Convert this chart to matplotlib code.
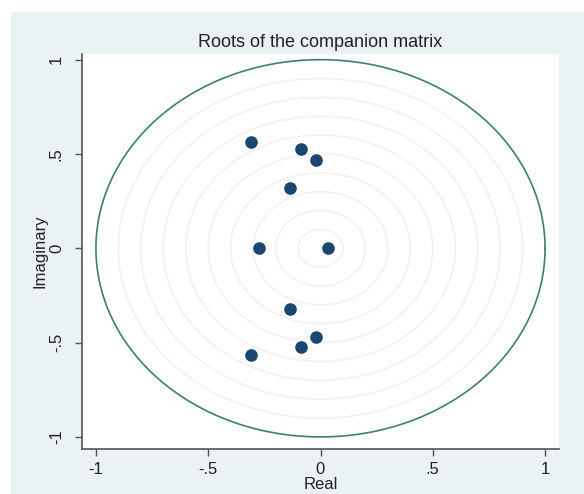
import numpy as np
import matplotlib.pyplot as plt
from matplotlib.patches import Rectangle

# roots of the companion matrix
real_part = [-0.31, -0.085, -0.02, -0.135, -0.275, 0.035,
             -0.135, -0.02, -0.085, -0.31]
imag_part = [0.565, 0.525, 0.468, 0.322, 0.0, 0.0,
             -0.322, -0.468, -0.525, -0.565]

grid_radii = [0.1, 0.2, 0.3, 0.4, 0.5, 0.6, 0.7, 0.8, 0.9]
x_ticks = [-1, -0.5, 0, 0.5, 1]
x_tick_labels = ["-1", "-.5", "0", ".5", "1"]
y_ticks = [-1, -0.5, 0, 0.5, 1]
y_tick_labels = ["-1", "-.5", "0", ".5", "1"]

plt.rcParams['font.family'] = ['Liberation Sans', 'DejaVu Sans']

fig = plt.figure(figsize=(5.84, 4.94), dpi=100)
fig.patch.set_facecolor("white")
# stata-like graph region
fig.patches.append(Rectangle((11 / 584, 0), 1, 1 - 12 / 494,
                             transform=fig.transFigure,
                             facecolor="#eaf2f3", edgecolor="none", zorder=-10))

ax = fig.add_axes([82 / 584, 1 - 449 / 494, (559 - 82) / 584, (449 - 54) / 494])
ax.set_facecolor("white")

theta = np.linspace(0, 2 * np.pi, 400)
for r in grid_radii:
    ax.plot(r * np.cos(theta), r * np.sin(theta), color="#f1f1f1", lw=1.2, zorder=1)
ax.plot(np.cos(theta), np.sin(theta), color="#3f7f70", lw=1.2, zorder=2)

ax.scatter(real_part, imag_part, s=65, color="#1a476f", zorder=3)

ax.set_xlim(-1.062, 1.062)
ax.set_ylim(-1.064, 1.03)

ax.set_xticks(x_ticks)
ax.set_xticklabels(x_tick_labels)
ax.set_yticks(y_ticks)
ax.set_yticklabels(y_tick_labels, rotation=90, va="center")
ax.tick_params(axis="both", direction="out", length=5, width=1,
               color="#555555", labelsize=12, labelcolor="#222222")
ax.tick_params(axis="y", pad=8)
ax.tick_params(axis="x", pad=4)

for side in ["top", "right"]:
    ax.spines[side].set_visible(False)
for side in ["left", "bottom"]:
    ax.spines[side].set_color("#555555")
    ax.spines[side].set_linewidth(1.2)

ax.set_xlabel("Real", fontsize=12, color="#222222", labelpad=0)
ax.set_ylabel("Imaginary", fontsize=12, color="#222222", labelpad=1)
ax.set_title("Roots of the companion matrix", fontsize=13, color="#222222", pad=5)

fig.savefig("out.png", dpi=100, facecolor=fig.get_facecolor())
